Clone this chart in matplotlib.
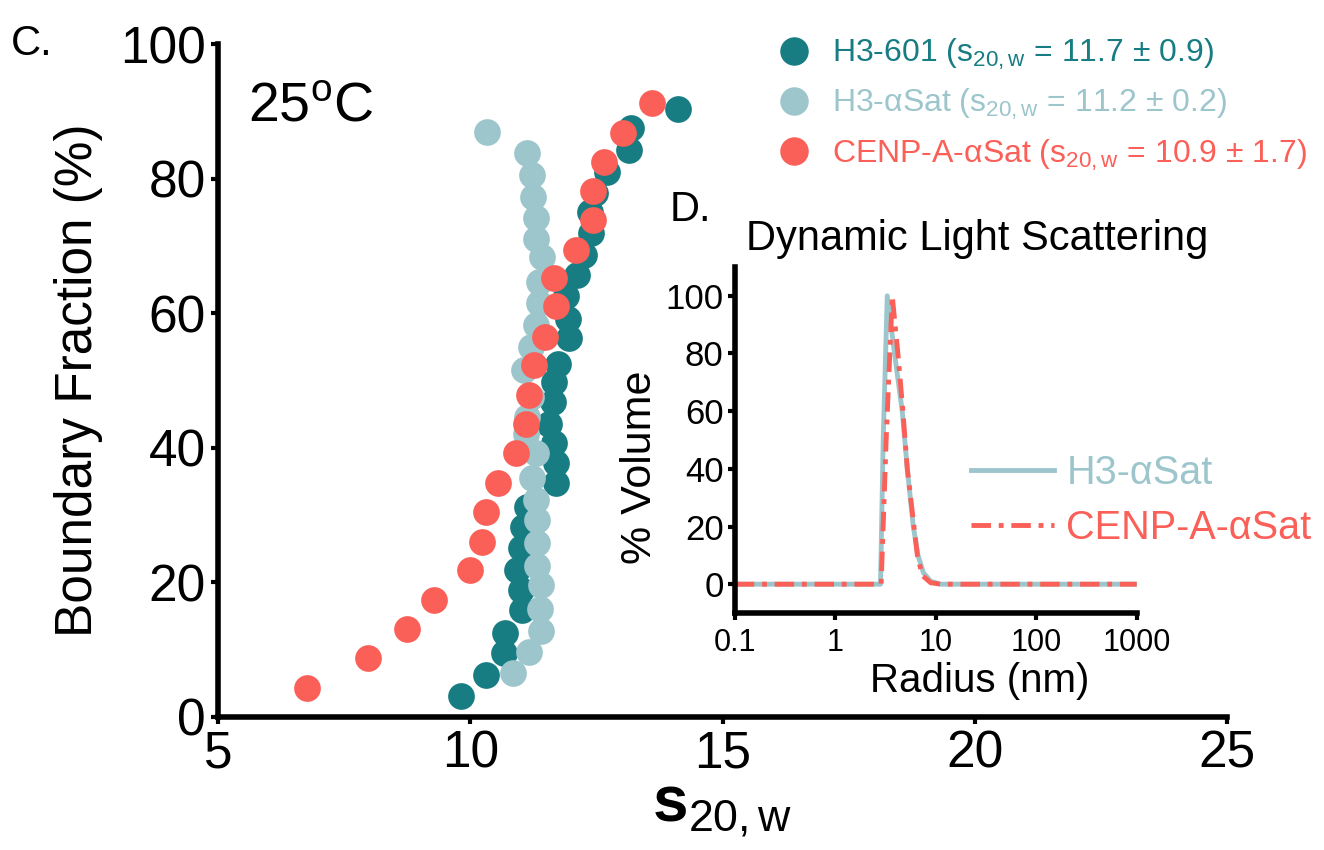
import numpy as np
import matplotlib
matplotlib.use('Agg')
import matplotlib.pyplot as plt
from matplotlib.lines import Line2D

plt.rcParams['font.family'] = ['Liberation Sans', 'DejaVu Sans']
plt.rcParams['mathtext.fontset'] = 'custom'
plt.rcParams['mathtext.rm'] = 'Liberation Sans'
plt.rcParams['mathtext.it'] = 'Liberation Sans:italic'
plt.rcParams['mathtext.bf'] = 'Liberation Sans:bold'

# colores
teal = '#177d83'
light = '#9cc6cc'
red = '#fa5f58'

# H3-601 (s20,w vs boundary fraction)
h3_601_s = [9.81, 10.32, 10.67, 10.69, 11.03, 11.00, 10.93, 11.00, 11.05, 11.13,
            11.69, 11.69, 11.66, 11.56, 11.63, 11.66, 11.73, 11.96, 11.93, 11.90,
            12.12, 12.26, 12.39, 12.37, 12.47, 12.72, 13.15, 13.18, 14.11]
h3_601_bf = [3.1, 6.3, 9.5, 12.5, 15.9, 18.9, 21.8, 25.1, 28.3, 31.2,
             34.7, 37.7, 40.7, 43.6, 46.8, 49.8, 52.5, 56.3, 59.2, 62.5,
             65.7, 68.6, 71.9, 75.1, 77.9, 81.0, 84.2, 87.5, 90.4]

# H3-aSat
h3_asat_s = [10.85, 11.16, 11.40, 11.38, 11.40, 11.33, 11.33, 11.33, 11.30, 11.23,
             11.30, 11.10, 11.13, 11.20, 11.06, 11.20, 11.30, 11.36, 11.36, 11.43,
             11.30, 11.30, 11.25, 11.23, 11.12, 10.34]
h3_asat_bf = [6.5, 9.7, 12.8, 16.1, 19.6, 22.5, 25.8, 29.3, 32.2, 35.5,
              39.2, 42.1, 44.6, 47.6, 51.6, 55.0, 58.2, 61.5, 64.7, 68.3,
              71.0, 74.1, 77.3, 80.5, 83.8, 87.0]

# CENP-A-aSat
cenpa_s = [6.76, 7.97, 8.75, 9.28, 9.99, 10.24, 10.32, 10.55, 10.90, 11.10,
           11.16, 11.26, 11.49, 11.69, 11.66, 12.09, 12.44, 12.44, 12.65, 13.02, 13.61]
cenpa_bf = [4.35, 8.7, 13.0, 17.4, 21.8, 26.0, 30.4, 34.7, 39.2, 43.6,
            47.8, 52.3, 56.4, 61.0, 65.2, 69.4, 73.8, 78.2, 82.5, 86.8, 91.3]

labels = ['H3-601 (s$_{\\mathrm{20,w}}$ = 11.7 ± 0.9)',
          'H3-αSat (s$_{\\mathrm{20,w}}$ = 11.2 ± 0.2)',
          'CENP-A-αSat (s$_{\\mathrm{20,w}}$ = 10.9 ± 1.7)']

# DLS
dls_r_h3 = [0.1, 2.82, 3.00, 3.29, 3.89, 4.64, 5.21, 5.98, 6.66, 7.53, 8.91, 11.2, 1000]
dls_v_h3 = [0, 0, 50, 100, 80, 60, 40, 20, 10, 4, 1, 0, 0]
dls_r_cenpa = [0.1, 2.86, 3.21, 3.69, 4.20, 4.71, 5.21, 6.07, 6.56, 7.36, 8.91, 11.2, 1000]
dls_v_cenpa = [0, 0, 50, 100, 80, 60, 40, 20, 10, 3, 0.5, 0, 0]

fig = plt.figure(figsize=(13.24, 8.5), dpi=100)
ax = fig.add_axes([0.1647, 0.1565, 0.762, 0.7917])

ms = 370
ax.scatter(h3_601_s, h3_601_bf, s=ms, color=teal, linewidths=0, zorder=3)
ax.scatter(h3_asat_s, h3_asat_bf, s=ms, color=light, linewidths=0, zorder=4)
ax.scatter(cenpa_s, cenpa_bf, s=ms, color=red, linewidths=0, zorder=5)

ax.set_xlim(5, 25)
ax.set_ylim(0, 100)
ax.set_xticks([5, 10, 15, 20, 25])
ax.set_yticks([0, 20, 40, 60, 80, 100])
for s in ['top', 'right']:
    ax.spines[s].set_visible(False)
for s in ['left', 'bottom']:
    ax.spines[s].set_linewidth(4)
ax.tick_params(labelsize=37, width=3, length=5, pad=4)
ax.set_ylabel('Boundary Fraction (%)', fontsize=37, labelpad=12)
ax.set_xlabel('$\\mathbf{s}_{\\mathrm{20,w}}$', fontsize=46, labelpad=0)

fig.text(0.008, 0.935, 'C.', fontsize=30)
ax.text(0.03, 0.885, '25$^{\\mathrm{o}}$C', transform=ax.transAxes, fontsize=40)

handles = [Line2D([], [], marker='o', ls='', color=c, markersize=19.5)
           for c in [teal, light, red]]
leg = fig.legend(handles, labels, loc='upper left', bbox_to_anchor=(0.572, 0.972),
                 frameon=False, fontsize=23, handletextpad=0.45, labelspacing=0.47,
                 labelcolor=[teal, light, red], borderaxespad=0, handlelength=1.5)

# inset DLS
ins = fig.add_axes([0.555, 0.2788, 0.3035, 0.4071])
ins.plot(dls_r_h3, dls_v_h3, color=light, lw=3.5, label='H3-αSat')
ins.plot(dls_r_cenpa, dls_v_cenpa, color=red, lw=3.5, ls=(0, (4, 1.6, 1, 1.6)),
         label='CENP-A-αSat')
ins.set_xscale('log')
ins.set_xlim(0.1, 1000)
ins.set_ylim(-10, 110)
ins.set_xticks([0.1, 1, 10, 100, 1000])
ins.set_xticklabels(['0.1', '1', '10', '100', '1000'])
ins.minorticks_off()
ins.set_yticks([0, 20, 40, 60, 80, 100])
for s in ['top', 'right']:
    ins.spines[s].set_visible(False)
for s in ['left', 'bottom']:
    ins.spines[s].set_linewidth(4)
ins.tick_params(axis='y', labelsize=25, width=3, length=5, pad=3)
ins.tick_params(axis='x', labelsize=22, width=3, length=5, pad=6)
ins.set_ylabel('% Volume', fontsize=31, labelpad=4, y=0.42)
ins.set_xlabel('Radius (nm)', fontsize=29, labelpad=3, x=0.61)
ins.set_title('Dynamic Light Scattering', fontsize=30, pad=12, x=0.604)
fig.text(0.506, 0.74, 'D.', fontsize=30)
ins.legend(loc='center left', bbox_to_anchor=(0.5, 0.325), frameon=False,
           fontsize=28.5, handlelength=2.1, handletextpad=0.3, labelspacing=0.42,
           labelcolor=[light, red])

fig.savefig('out.png', dpi=100)
